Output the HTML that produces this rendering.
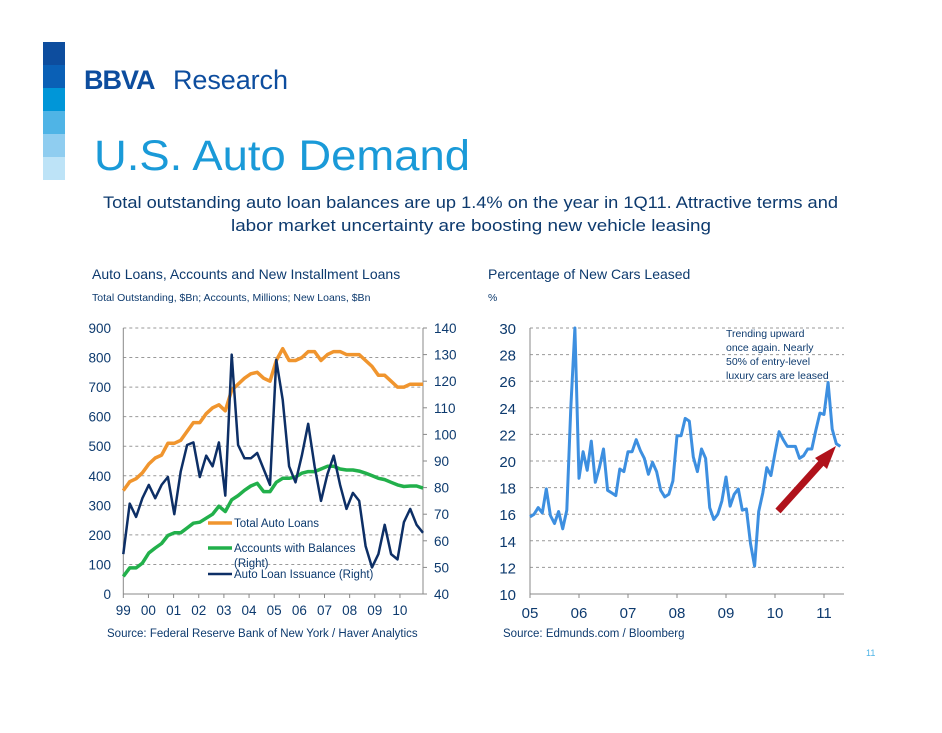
<!DOCTYPE html>
<html><head><meta charset="utf-8"><style>
body{margin:0;background:#fff;width:942px;height:728px;overflow:hidden;font-family:"Liberation Sans",sans-serif}
svg text{font-family:"Liberation Sans",sans-serif}
</style></head><body>
<svg id="s" width="942" height="728" viewBox="0 0 942 728">
<g>
<rect x="43" y="42" width="22" height="23" fill="#0d4d9e"/>
<rect x="43" y="65" width="22" height="23" fill="#0a60b6"/>
<rect x="43" y="88" width="22" height="23" fill="#0096d8"/>
<rect x="43" y="111" width="22" height="23" fill="#4fb4e6"/>
<rect x="43" y="134" width="22" height="23" fill="#8fcdf0"/>
<rect x="43" y="157" width="22" height="23" fill="#bde3f7"/>
</g>
<text x="84" y="89" font-size="27" font-weight="bold" fill="#0d4d9e" letter-spacing="-1">BBVA</text>
<text x="173" y="89" font-size="27" fill="#0d4d9e" textLength="115">Research</text>
<text x="94" y="170" font-size="43" fill="#1a9ad8" textLength="376" lengthAdjust="spacingAndGlyphs">U.S. Auto Demand</text>
<text x="103" y="208" font-size="16.5" fill="#0d3a6e" textLength="735" lengthAdjust="spacingAndGlyphs">Total outstanding auto loan balances are up 1.4% on the year in 1Q11.  Attractive terms and</text>
<text x="231" y="231" font-size="16.5" fill="#0d3a6e" textLength="480" lengthAdjust="spacingAndGlyphs">labor market uncertainty are boosting new vehicle leasing</text>
<text x="92" y="279" font-size="14" fill="#0d3a6e">Auto Loans, Accounts and New Installment Loans</text>
<text x="92" y="301" font-size="10.5" fill="#0d3a6e">Total Outstanding, $Bn; Accounts, Millions; New Loans, $Bn</text>
<text x="488" y="279" font-size="14" fill="#0d3a6e">Percentage of New Cars Leased</text>
<text x="488" y="301" font-size="10.5" fill="#0d3a6e">%</text>
<g id="L"></g>
<g id="R"></g>
<text x="107" y="637" font-size="11.5" fill="#0d3a6e">Source: Federal Reserve Bank of New York / Haver Analytics</text>
<text x="503" y="637" font-size="11.5" fill="#0d3a6e">Source: Edmunds.com / Bloomberg</text>
<text x="866" y="656" font-size="9" fill="#4fb4e6">11</text>
</svg>
<script>
const totalLoans=[350,380,390,410,440,460,470,510,510,520,550,580,580,610,630,640,620,690,710,730,745,750,730,720,790,830,790,790,800,820,820,790,810,820,820,810,810,810,790,770,740,740,720,700,700,710,710,710];
const accounts=[46.6,49.8,49.8,51.6,55.4,57.3,59,62,63,63,64.8,66.6,67,68.5,70,73,71,75.4,77,79,80.6,81.6,78.5,78.5,82,83.5,83.5,84,85.4,86,86,87,88,88,87,86.6,86.6,86.2,85.4,84.5,83.5,83,82,81,80.4,80.6,80.6,79.8];
const issuance=[55,74,69,76,81,76,81,84,70,86,96,97,84,92,88,97,77,130,96,91,91,93,87,81,128,113,88,82,92,104,88,75,85,92,81,72,78,75,58,50,55,66,55,53,67,72,66,63];
const leftTicks=[0,100,200,300,400,500,600,700,800,900];
const rightTicks=[40,50,60,70,80,90,100,110,120,130,140];
const leftYears=["99","00","01","02","03","04","05","06","07","08","09","10"];
const leased=[15.8,16.0,16.5,16.1,17.9,15.9,15.3,16.2,14.9,16.3,24,30,18.7,20.7,19.3,21.5,18.4,19.5,20.9,17.8,17.6,17.4,19.4,19.2,20.7,20.7,21.6,20.8,20.2,19.0,19.9,19.2,17.8,17.3,17.5,18.5,21.9,21.9,23.2,23.0,20.3,19.2,20.9,20.2,16.5,15.6,16.0,17.0,18.8,16.6,17.5,17.9,16.3,16.4,13.8,12.1,16.2,17.6,19.5,18.9,20.6,22.2,21.6,21.1,21.1,21.1,20.2,20.4,20.9,20.9,22.3,23.6,23.5,25.9,22.4,21.3,21.1];
const pctTicks=[10,12,14,16,18,20,22,24,26,28,30];
const rightYears=["05","06","07","08","09","10","11"];
(function(){
const NS="http://www.w3.org/2000/svg";
function mk(p,t,a,txt){const e=document.createElementNS(NS,t);for(const k in a)e.setAttribute(k,a[k]);if(txt!==undefined)e.textContent=txt;p.appendChild(e);return e;}
const C="#0d3a6e";
const L=document.getElementById('L');
const lx0=123.3,lyr=25.15,pTop=328,pBot=594,rx=423;
const ly=v=>pBot-(v/900)*(pBot-pTop);
const ry=v=>pBot-((v-40)/100)*(pBot-pTop);
const qx=i=>lx0+i*(rx-lx0)/47;
leftTicks.forEach(v=>{
 if(v>0){const g=mk(L,'line',{x1:lx0,x2:rx,y1:ly(v),y2:ly(v),stroke:'#999','stroke-dasharray':'3,3','stroke-width':1});
 
 }
 const t=mk(L,'text',{x:111,y:ly(v)+5,'font-size':13.5,fill:C,'text-anchor':'end'},String(v));
 
 
});
rightTicks.forEach(v=>{
 const t=mk(L,'text',{x:434,y:ry(v)+5,'font-size':13.5,fill:C},String(v));
 
 
 mk(L,'line',{x1:rx,x2:rx+4,y1:ry(v),y2:ry(v),stroke:'#888'});
});
mk(L,'line',{x1:lx0,x2:lx0,y1:pTop,y2:pBot,stroke:'#888'});
mk(L,'line',{x1:rx,x2:rx,y1:pTop,y2:pBot,stroke:'#888'});
mk(L,'line',{x1:lx0,x2:rx,y1:pBot,y2:pBot,stroke:'#888'});
leftYears.forEach((y,i)=>{
 const x=lx0+i*lyr;
 mk(L,'line',{x1:x,x2:x,y1:pBot,y2:pBot+4,stroke:'#888'});
 const t=mk(L,'text',{x:x,y:pBot+21,'font-size':13.5,fill:C,'text-anchor':'middle'},y);
 
 
});
function path(p,arr,fx,fy,col,w,name){
 const d=arr.map((v,i)=>(i?'L':'M')+fx(i).toFixed(1)+','+fy(v).toFixed(1)).join('');
 const e=mk(p,'path',{d:d,fill:'none',stroke:col,'stroke-width':w,'stroke-linejoin':'round'});
 
 
}
path(L,totalLoans,qx,ly,'#f0952e',3.5,'total-auto-loans-line');
path(L,accounts,qx,ry,'#22b04b',3.5,'accounts-line');
path(L,issuance,qx,ry,'#0d2f66',2.5,'issuance-line');
const leg=[['#f0952e','Total Auto Loans',527,3.5],['#22b04b','Accounts with Balances',552,3.5],['#0d2f66','Auto Loan Issuance (Right)',578,2.5]];
leg.forEach(l=>{
 const g=mk(L,'g',{});
 
 
 mk(g,'line',{x1:208,x2:232,y1:l[2]-4,y2:l[2]-4,stroke:l[0],'stroke-width':l[3]});
 mk(g,'text',{x:234,y:l[2],'font-size':11.5,fill:C},l[1]);
});
const r2=mk(L,'text',{x:234,y:567,'font-size':11.5,fill:C},'(Right)');


const R=document.getElementById('R');
const px0=530,pyr=49,prx=844;
const py=v=>pBot-((v-10)/20)*(pBot-pTop);
const mx=i=>px0+i*pyr/12;
pctTicks.forEach(v=>{
 if(v>10){const g=mk(R,'line',{x1:px0,x2:prx,y1:py(v),y2:py(v),stroke:'#999','stroke-dasharray':'3,3'});
 
 }
 const t=mk(R,'text',{x:516,y:py(v)+6,'font-size':15,fill:C,'text-anchor':'end'},String(v));
 
 
});
mk(R,'line',{x1:px0,x2:px0,y1:pTop,y2:pBot,stroke:'#888'});
mk(R,'line',{x1:px0,x2:prx,y1:pBot,y2:pBot,stroke:'#888'});
rightYears.forEach((y,i)=>{
 const x=px0+i*pyr;
 mk(R,'line',{x1:x,x2:x,y1:pBot,y2:pBot+4,stroke:'#888'});
 const t=mk(R,'text',{x:x,y:pBot+24,'font-size':15,fill:C,'text-anchor':'middle'},y);
 
 
});
path(R,leased,mx,py,'#3d8fe0',3,'leased-line');
['Trending upward','once again. Nearly','50% of entry-level','luxury cars are leased'].forEach((s,i)=>{
 const t=mk(R,'text',{x:726,y:337+i*14,'font-size':10.5,fill:C},s);
 
 
});
const ar=mk(R,'g',{});


mk(ar,'line',{x1:778,y1:511,x2:824,y2:460,stroke:'#b0121b','stroke-width':7});
mk(ar,'polygon',{points:'836,446 827,469 815,458',fill:'#b0121b'});
})();
</script>
</body></html>
